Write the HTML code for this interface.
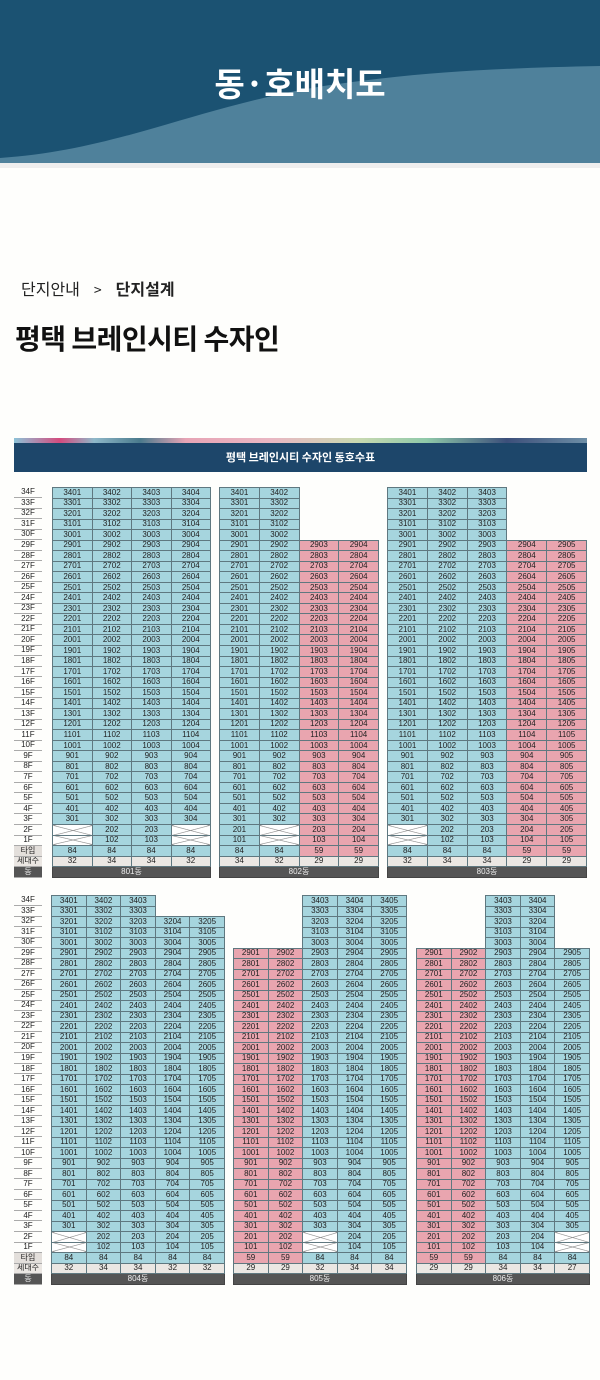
<!DOCTYPE html>
<html><head><meta charset="utf-8"><style>
*{margin:0;padding:0;box-sizing:border-box}
body{width:600px;height:1380px;background:#fefefc;position:relative;overflow:hidden;font-family:"Liberation Sans","Noto Sans CJK KR",sans-serif}
.ban{position:absolute;left:0;top:0;width:600px;height:168px}
.bt{position:absolute;top:58px;left:0;width:600px;text-align:center;color:#fff;font-size:33px;font-weight:bold;font-family:"Noto Sans CJK KR",sans-serif}
.crumb{position:absolute;top:276px;left:21px;font-size:16px;color:#222;font-family:"Noto Sans CJK KR",sans-serif}
.crumb b{margin-left:14px}.crumb span{margin-left:14px;font-size:14px}
.ttl{position:absolute;top:318px;left:15px;font-size:28px;font-weight:bold;color:#111;font-family:"Noto Sans CJK KR",sans-serif;letter-spacing:-0.5px}
.ch{position:absolute;left:14px;top:438px;width:573px;height:34px}
.ch .s{height:5px;background:linear-gradient(90deg,#8cc3d8 0%,#d44b7e 8%,#8fb8c9 14%,#4a7a8c 22%,#e7a4b5 30%,#e9b7c3 45%,#c9d9b0 60%,#8fc9a9 72%,#3c4f7a 86%,#6d8ea6 100%)}
.ch .n{height:29px;background:#1d466a;color:#fff;font-size:11px;font-weight:bold;text-align:center;line-height:29px;font-family:"Noto Sans CJK KR",sans-serif}
table{position:absolute;border-collapse:collapse;table-layout:fixed;font-size:8px;line-height:1;color:#222}
td{border:1px solid #5f7880;background:#a6d5de;text-align:center;padding:0;height:10.5px;overflow:hidden;white-space:nowrap}
td.p{background:#e9a5af}
td.e{background:none;border:none}
td.x{background:linear-gradient(to top right,transparent calc(50% - .6px),#888 50%,transparent calc(50% + .6px)),linear-gradient(to bottom right,transparent calc(50% - .6px),#888 50%,transparent calc(50% + .6px)),#fff}
td.s{background:#ebe7e3}
td.d{background:#555;color:#eee;border-color:#444}
table.f td{background:none;border:none;border-bottom:1px solid #aaa}
table.f td.s{background:#e3dfdb}
table.f td.s2{background:#ebe7e3;border-bottom:1px solid #aaa}
table.f td.d{background:#555;color:#eee}
</style></head><body>
<svg class="ban" viewBox="0 0 600 168" preserveAspectRatio="none"><rect width="600" height="168" fill="#eeeeee"/><rect width="600" height="163" fill="#1b5272"/><path d="M0,158 C120,150 200,105 330,85 C420,72 500,68 600,66 L600,163 L0,163 Z" fill="#4f819b"/></svg>
<div class="bt">동·호배치도</div>
<div class="crumb">단지안내<span>&gt;</span><b>단지설계</b></div>
<div class="ttl">평택 브레인시티 수자인</div>
<div class="ch"><div class="s"></div><div class="n">평택 브레인시티 수자인 동호수표</div></div>

<table class="f" style="left:14px;top:487px;width:28px;height:391px">
<tr><td>34F<tr><td>33F<tr><td>32F<tr><td>31F<tr><td>30F<tr><td>29F<tr><td>28F<tr><td>27F<tr><td>26F<tr><td>25F<tr><td>24F<tr><td>23F<tr><td>22F<tr><td>21F<tr><td>20F<tr><td>19F<tr><td>18F<tr><td>17F<tr><td>16F<tr><td>15F<tr><td>14F<tr><td>13F<tr><td>12F<tr><td>11F<tr><td>10F<tr><td>9F<tr><td>8F<tr><td>7F<tr><td>6F<tr><td>5F<tr><td>4F<tr><td>3F<tr><td>2F<tr><td>1F<tr><td class=s>타입<tr><td class=s2>세대수<tr><td class=d>동
</table>

<table style="left:52px;top:487px;width:159px;height:391px">
<tr><td>3401<td>3402<td>3403<td>3404
<tr><td>3301<td>3302<td>3303<td>3304
<tr><td>3201<td>3202<td>3203<td>3204
<tr><td>3101<td>3102<td>3103<td>3104
<tr><td>3001<td>3002<td>3003<td>3004
<tr><td>2901<td>2902<td>2903<td>2904
<tr><td>2801<td>2802<td>2803<td>2804
<tr><td>2701<td>2702<td>2703<td>2704
<tr><td>2601<td>2602<td>2603<td>2604
<tr><td>2501<td>2502<td>2503<td>2504
<tr><td>2401<td>2402<td>2403<td>2404
<tr><td>2301<td>2302<td>2303<td>2304
<tr><td>2201<td>2202<td>2203<td>2204
<tr><td>2101<td>2102<td>2103<td>2104
<tr><td>2001<td>2002<td>2003<td>2004
<tr><td>1901<td>1902<td>1903<td>1904
<tr><td>1801<td>1802<td>1803<td>1804
<tr><td>1701<td>1702<td>1703<td>1704
<tr><td>1601<td>1602<td>1603<td>1604
<tr><td>1501<td>1502<td>1503<td>1504
<tr><td>1401<td>1402<td>1403<td>1404
<tr><td>1301<td>1302<td>1303<td>1304
<tr><td>1201<td>1202<td>1203<td>1204
<tr><td>1101<td>1102<td>1103<td>1104
<tr><td>1001<td>1002<td>1003<td>1004
<tr><td>901<td>902<td>903<td>904
<tr><td>801<td>802<td>803<td>804
<tr><td>701<td>702<td>703<td>704
<tr><td>601<td>602<td>603<td>604
<tr><td>501<td>502<td>503<td>504
<tr><td>401<td>402<td>403<td>404
<tr><td>301<td>302<td>303<td>304
<tr><td class=x><td>202<td>203<td class=x>
<tr><td class=x><td>102<td>103<td class=x>
<tr><td>84<td>84<td>84<td>84
<tr><td class=s>32<td class=s>34<td class=s>34<td class=s>32
<tr><td colspan=4 class=d>801동
</table>

<table style="left:219px;top:487px;width:160px;height:391px">
<tr><td>3401<td>3402<td class=e><td class=e>
<tr><td>3301<td>3302<td class=e><td class=e>
<tr><td>3201<td>3202<td class=e><td class=e>
<tr><td>3101<td>3102<td class=e><td class=e>
<tr><td>3001<td>3002<td class=e><td class=e>
<tr><td>2901<td>2902<td class=p>2903<td class=p>2904
<tr><td>2801<td>2802<td class=p>2803<td class=p>2804
<tr><td>2701<td>2702<td class=p>2703<td class=p>2704
<tr><td>2601<td>2602<td class=p>2603<td class=p>2604
<tr><td>2501<td>2502<td class=p>2503<td class=p>2504
<tr><td>2401<td>2402<td class=p>2403<td class=p>2404
<tr><td>2301<td>2302<td class=p>2303<td class=p>2304
<tr><td>2201<td>2202<td class=p>2203<td class=p>2204
<tr><td>2101<td>2102<td class=p>2103<td class=p>2104
<tr><td>2001<td>2002<td class=p>2003<td class=p>2004
<tr><td>1901<td>1902<td class=p>1903<td class=p>1904
<tr><td>1801<td>1802<td class=p>1803<td class=p>1804
<tr><td>1701<td>1702<td class=p>1703<td class=p>1704
<tr><td>1601<td>1602<td class=p>1603<td class=p>1604
<tr><td>1501<td>1502<td class=p>1503<td class=p>1504
<tr><td>1401<td>1402<td class=p>1403<td class=p>1404
<tr><td>1301<td>1302<td class=p>1303<td class=p>1304
<tr><td>1201<td>1202<td class=p>1203<td class=p>1204
<tr><td>1101<td>1102<td class=p>1103<td class=p>1104
<tr><td>1001<td>1002<td class=p>1003<td class=p>1004
<tr><td>901<td>902<td class=p>903<td class=p>904
<tr><td>801<td>802<td class=p>803<td class=p>804
<tr><td>701<td>702<td class=p>703<td class=p>704
<tr><td>601<td>602<td class=p>603<td class=p>604
<tr><td>501<td>502<td class=p>503<td class=p>504
<tr><td>401<td>402<td class=p>403<td class=p>404
<tr><td>301<td>302<td class=p>303<td class=p>304
<tr><td>201<td class=x><td class=p>203<td class=p>204
<tr><td>101<td class=x><td class=p>103<td class=p>104
<tr><td>84<td>84<td class=p>59<td class=p>59
<tr><td class=s>34<td class=s>32<td class=s>29<td class=s>29
<tr><td colspan=4 class=d>802동
</table>

<table style="left:387px;top:487px;width:200px;height:391px">
<tr><td>3401<td>3402<td>3403<td class=e><td class=e>
<tr><td>3301<td>3302<td>3303<td class=e><td class=e>
<tr><td>3201<td>3202<td>3203<td class=e><td class=e>
<tr><td>3101<td>3102<td>3103<td class=e><td class=e>
<tr><td>3001<td>3002<td>3003<td class=e><td class=e>
<tr><td>2901<td>2902<td>2903<td class=p>2904<td class=p>2905
<tr><td>2801<td>2802<td>2803<td class=p>2804<td class=p>2805
<tr><td>2701<td>2702<td>2703<td class=p>2704<td class=p>2705
<tr><td>2601<td>2602<td>2603<td class=p>2604<td class=p>2605
<tr><td>2501<td>2502<td>2503<td class=p>2504<td class=p>2505
<tr><td>2401<td>2402<td>2403<td class=p>2404<td class=p>2405
<tr><td>2301<td>2302<td>2303<td class=p>2304<td class=p>2305
<tr><td>2201<td>2202<td>2203<td class=p>2204<td class=p>2205
<tr><td>2101<td>2102<td>2103<td class=p>2104<td class=p>2105
<tr><td>2001<td>2002<td>2003<td class=p>2004<td class=p>2005
<tr><td>1901<td>1902<td>1903<td class=p>1904<td class=p>1905
<tr><td>1801<td>1802<td>1803<td class=p>1804<td class=p>1805
<tr><td>1701<td>1702<td>1703<td class=p>1704<td class=p>1705
<tr><td>1601<td>1602<td>1603<td class=p>1604<td class=p>1605
<tr><td>1501<td>1502<td>1503<td class=p>1504<td class=p>1505
<tr><td>1401<td>1402<td>1403<td class=p>1404<td class=p>1405
<tr><td>1301<td>1302<td>1303<td class=p>1304<td class=p>1305
<tr><td>1201<td>1202<td>1203<td class=p>1204<td class=p>1205
<tr><td>1101<td>1102<td>1103<td class=p>1104<td class=p>1105
<tr><td>1001<td>1002<td>1003<td class=p>1004<td class=p>1005
<tr><td>901<td>902<td>903<td class=p>904<td class=p>905
<tr><td>801<td>802<td>803<td class=p>804<td class=p>805
<tr><td>701<td>702<td>703<td class=p>704<td class=p>705
<tr><td>601<td>602<td>603<td class=p>604<td class=p>605
<tr><td>501<td>502<td>503<td class=p>504<td class=p>505
<tr><td>401<td>402<td>403<td class=p>404<td class=p>405
<tr><td>301<td>302<td>303<td class=p>304<td class=p>305
<tr><td class=x><td>202<td>203<td class=p>204<td class=p>205
<tr><td class=x><td>102<td>103<td class=p>104<td class=p>105
<tr><td>84<td>84<td>84<td class=p>59<td class=p>59
<tr><td class=s>32<td class=s>34<td class=s>34<td class=s>29<td class=s>29
<tr><td colspan=5 class=d>803동
</table>

<table class="f" style="left:14px;top:895px;width:28px;height:390px">
<tr><td>34F<tr><td>33F<tr><td>32F<tr><td>31F<tr><td>30F<tr><td>29F<tr><td>28F<tr><td>27F<tr><td>26F<tr><td>25F<tr><td>24F<tr><td>23F<tr><td>22F<tr><td>21F<tr><td>20F<tr><td>19F<tr><td>18F<tr><td>17F<tr><td>16F<tr><td>15F<tr><td>14F<tr><td>13F<tr><td>12F<tr><td>11F<tr><td>10F<tr><td>9F<tr><td>8F<tr><td>7F<tr><td>6F<tr><td>5F<tr><td>4F<tr><td>3F<tr><td>2F<tr><td>1F<tr><td class=s>타입<tr><td class=s2>세대수<tr><td class=d>동
</table>

<table style="left:51px;top:895px;width:174px;height:390px">
<tr><td>3401<td>3402<td>3403<td class=e><td class=e>
<tr><td>3301<td>3302<td>3303<td class=e><td class=e>
<tr><td>3201<td>3202<td>3203<td>3204<td>3205
<tr><td>3101<td>3102<td>3103<td>3104<td>3105
<tr><td>3001<td>3002<td>3003<td>3004<td>3005
<tr><td>2901<td>2902<td>2903<td>2904<td>2905
<tr><td>2801<td>2802<td>2803<td>2804<td>2805
<tr><td>2701<td>2702<td>2703<td>2704<td>2705
<tr><td>2601<td>2602<td>2603<td>2604<td>2605
<tr><td>2501<td>2502<td>2503<td>2504<td>2505
<tr><td>2401<td>2402<td>2403<td>2404<td>2405
<tr><td>2301<td>2302<td>2303<td>2304<td>2305
<tr><td>2201<td>2202<td>2203<td>2204<td>2205
<tr><td>2101<td>2102<td>2103<td>2104<td>2105
<tr><td>2001<td>2002<td>2003<td>2004<td>2005
<tr><td>1901<td>1902<td>1903<td>1904<td>1905
<tr><td>1801<td>1802<td>1803<td>1804<td>1805
<tr><td>1701<td>1702<td>1703<td>1704<td>1705
<tr><td>1601<td>1602<td>1603<td>1604<td>1605
<tr><td>1501<td>1502<td>1503<td>1504<td>1505
<tr><td>1401<td>1402<td>1403<td>1404<td>1405
<tr><td>1301<td>1302<td>1303<td>1304<td>1305
<tr><td>1201<td>1202<td>1203<td>1204<td>1205
<tr><td>1101<td>1102<td>1103<td>1104<td>1105
<tr><td>1001<td>1002<td>1003<td>1004<td>1005
<tr><td>901<td>902<td>903<td>904<td>905
<tr><td>801<td>802<td>803<td>804<td>805
<tr><td>701<td>702<td>703<td>704<td>705
<tr><td>601<td>602<td>603<td>604<td>605
<tr><td>501<td>502<td>503<td>504<td>505
<tr><td>401<td>402<td>403<td>404<td>405
<tr><td>301<td>302<td>303<td>304<td>305
<tr><td class=x><td>202<td>203<td>204<td>205
<tr><td class=x><td>102<td>103<td>104<td>105
<tr><td>84<td>84<td>84<td>84<td>84
<tr><td class=s>32<td class=s>34<td class=s>34<td class=s>32<td class=s>32
<tr><td colspan=5 class=d>804동
</table>

<table style="left:233px;top:895px;width:174px;height:390px">
<tr><td class=e><td class=e><td>3403<td>3404<td>3405
<tr><td class=e><td class=e><td>3303<td>3304<td>3305
<tr><td class=e><td class=e><td>3203<td>3204<td>3205
<tr><td class=e><td class=e><td>3103<td>3104<td>3105
<tr><td class=e><td class=e><td>3003<td>3004<td>3005
<tr><td class=p>2901<td class=p>2902<td>2903<td>2904<td>2905
<tr><td class=p>2801<td class=p>2802<td>2803<td>2804<td>2805
<tr><td class=p>2701<td class=p>2702<td>2703<td>2704<td>2705
<tr><td class=p>2601<td class=p>2602<td>2603<td>2604<td>2605
<tr><td class=p>2501<td class=p>2502<td>2503<td>2504<td>2505
<tr><td class=p>2401<td class=p>2402<td>2403<td>2404<td>2405
<tr><td class=p>2301<td class=p>2302<td>2303<td>2304<td>2305
<tr><td class=p>2201<td class=p>2202<td>2203<td>2204<td>2205
<tr><td class=p>2101<td class=p>2102<td>2103<td>2104<td>2105
<tr><td class=p>2001<td class=p>2002<td>2003<td>2004<td>2005
<tr><td class=p>1901<td class=p>1902<td>1903<td>1904<td>1905
<tr><td class=p>1801<td class=p>1802<td>1803<td>1804<td>1805
<tr><td class=p>1701<td class=p>1702<td>1703<td>1704<td>1705
<tr><td class=p>1601<td class=p>1602<td>1603<td>1604<td>1605
<tr><td class=p>1501<td class=p>1502<td>1503<td>1504<td>1505
<tr><td class=p>1401<td class=p>1402<td>1403<td>1404<td>1405
<tr><td class=p>1301<td class=p>1302<td>1303<td>1304<td>1305
<tr><td class=p>1201<td class=p>1202<td>1203<td>1204<td>1205
<tr><td class=p>1101<td class=p>1102<td>1103<td>1104<td>1105
<tr><td class=p>1001<td class=p>1002<td>1003<td>1004<td>1005
<tr><td class=p>901<td class=p>902<td>903<td>904<td>905
<tr><td class=p>801<td class=p>802<td>803<td>804<td>805
<tr><td class=p>701<td class=p>702<td>703<td>704<td>705
<tr><td class=p>601<td class=p>602<td>603<td>604<td>605
<tr><td class=p>501<td class=p>502<td>503<td>504<td>505
<tr><td class=p>401<td class=p>402<td>403<td>404<td>405
<tr><td class=p>301<td class=p>302<td>303<td>304<td>305
<tr><td class=p>201<td class=p>202<td class=x><td>204<td>205
<tr><td class=p>101<td class=p>102<td class=x><td>104<td>105
<tr><td class=p>59<td class=p>59<td>84<td>84<td>84
<tr><td class=s>29<td class=s>29<td class=s>32<td class=s>34<td class=s>34
<tr><td colspan=5 class=d>805동
</table>

<table style="left:416px;top:895px;width:174px;height:390px">
<tr><td class=e><td class=e><td>3403<td>3404<td class=e>
<tr><td class=e><td class=e><td>3303<td>3304<td class=e>
<tr><td class=e><td class=e><td>3203<td>3204<td class=e>
<tr><td class=e><td class=e><td>3103<td>3104<td class=e>
<tr><td class=e><td class=e><td>3003<td>3004<td class=e>
<tr><td class=p>2901<td class=p>2902<td>2903<td>2904<td>2905
<tr><td class=p>2801<td class=p>2802<td>2803<td>2804<td>2805
<tr><td class=p>2701<td class=p>2702<td>2703<td>2704<td>2705
<tr><td class=p>2601<td class=p>2602<td>2603<td>2604<td>2605
<tr><td class=p>2501<td class=p>2502<td>2503<td>2504<td>2505
<tr><td class=p>2401<td class=p>2402<td>2403<td>2404<td>2405
<tr><td class=p>2301<td class=p>2302<td>2303<td>2304<td>2305
<tr><td class=p>2201<td class=p>2202<td>2203<td>2204<td>2205
<tr><td class=p>2101<td class=p>2102<td>2103<td>2104<td>2105
<tr><td class=p>2001<td class=p>2002<td>2003<td>2004<td>2005
<tr><td class=p>1901<td class=p>1902<td>1903<td>1904<td>1905
<tr><td class=p>1801<td class=p>1802<td>1803<td>1804<td>1805
<tr><td class=p>1701<td class=p>1702<td>1703<td>1704<td>1705
<tr><td class=p>1601<td class=p>1602<td>1603<td>1604<td>1605
<tr><td class=p>1501<td class=p>1502<td>1503<td>1504<td>1505
<tr><td class=p>1401<td class=p>1402<td>1403<td>1404<td>1405
<tr><td class=p>1301<td class=p>1302<td>1303<td>1304<td>1305
<tr><td class=p>1201<td class=p>1202<td>1203<td>1204<td>1205
<tr><td class=p>1101<td class=p>1102<td>1103<td>1104<td>1105
<tr><td class=p>1001<td class=p>1002<td>1003<td>1004<td>1005
<tr><td class=p>901<td class=p>902<td>903<td>904<td>905
<tr><td class=p>801<td class=p>802<td>803<td>804<td>805
<tr><td class=p>701<td class=p>702<td>703<td>704<td>705
<tr><td class=p>601<td class=p>602<td>603<td>604<td>605
<tr><td class=p>501<td class=p>502<td>503<td>504<td>505
<tr><td class=p>401<td class=p>402<td>403<td>404<td>405
<tr><td class=p>301<td class=p>302<td>303<td>304<td>305
<tr><td class=p>201<td class=p>202<td>203<td>204<td class=x>
<tr><td class=p>101<td class=p>102<td>103<td>104<td class=x>
<tr><td class=p>59<td class=p>59<td>84<td>84<td>84
<tr><td class=s>29<td class=s>29<td class=s>34<td class=s>34<td class=s>27
<tr><td colspan=5 class=d>806동
</table>
</body></html>
